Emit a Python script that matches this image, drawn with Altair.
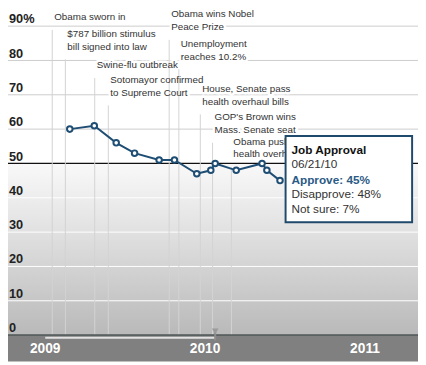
import altair as alt
import pandas as pd

# ---------------- data ----------------
poll_dates = ["2009-02-26", "2009-04-23", "2009-06-12", "2009-07-24", "2009-09-18",
              "2009-10-23", "2009-12-13", "2010-01-14", "2010-01-24", "2010-03-13",
              "2010-05-11", "2010-05-22", "2010-06-21"]
approve = [60, 61, 56, 53, 51, 51, 47, 48, 50, 48, 50, 48, 45]

event_dates = ["2009-01-17", "2009-02-16", "2009-04-24", "2009-05-25", "2009-10-11",
               "2009-11-02", "2009-12-21", "2010-01-18", "2010-03-02"]
event_labels = ["Obama sworn in",
                "$787 billion stimulus\nbill signed into law",
                "Swine-flu outbreak",
                "Sotomayor confirmed\nto Supreme Court",
                "Obama wins Nobel\nPeace Prize",
                "Unemployment\nreaches 10.2%",
                "House, Senate pass\nhealth overhaul bills",
                "GOP's Brown wins\nMass. Senate seat",
                "Obama pushes\nhealth overhaul"]
event_levels = [88.9, 80.3, 74.9, 66.9, 86.0, 77.4, 64.3, 56.0, 48.9]

grid_values = [0, 10, 20, 30, 40, 50, 60, 70, 80, 90]
grid_labels = ["0", "10", "20", "30", "40", "50", "60", "70", "80", "90%"]

year_ticks = ["2009-01-01", "2010-01-01", "2011-01-01"]
year_labels = ["2009", "2010", "2011"]

slider_start = "2009-01-01"
slider_handle = "2010-01-24"

tip_title = "Job Approval"
tip_date = "06/21/10"
tip_approve = 45
tip_disapprove = 48
tip_not_sure = 7

# ---------------- frames ----------------
polls = pd.DataFrame({"date": poll_dates, "approve": approve})

ann_rows = []
for d, lab, lev in zip(event_dates, event_labels, event_levels):
    parts = lab.split("\n")
    for i, p in enumerate(parts):
        ann_rows.append({"date": d, "text": p, "level": lev,
                         "pos": "last" if i == len(parts) - 1 else "first"})
ann = pd.DataFrame(ann_rows)
events = pd.DataFrame({"date": event_dates, "level": event_levels})
grid = pd.DataFrame({"v": grid_values, "label": grid_labels})
years = pd.DataFrame({"date": year_ticks, "label": year_labels})
one = pd.DataFrame({"a": [0]})

FONT = "Liberation Sans"
BLUE = "#1f4e74"

xs = alt.Scale(type="utc", domain=["2008-10-08", "2011-05-02"], nice=False)
ys = alt.Scale(domain=[-7.714, 94.286], nice=False, zero=False)

W, H = 418, 357

# background gradient below 50
grad = alt.Chart(one).mark_rect(
    color=alt.Gradient(gradient="linear",
                       stops=[alt.GradientStop(color="#f9f9f9", offset=0),
                              alt.GradientStop(color="#e4e4e4", offset=0.35),
                              alt.GradientStop(color="#b9b9b9", offset=1)],
                       x1=0, x2=0, y1=0, y2=1)
).encode(x=alt.value(0), x2=alt.value(W),
         y=alt.datum(50, scale=ys, axis=None), y2=alt.datum(0))

gridlines = alt.Chart(grid).transform_filter(
    "datum.v != 0 && datum.v != 50"
).mark_rule(strokeWidth=1).encode(
    y=alt.Y("v:Q", scale=ys, axis=None),
    color=alt.condition("datum.v > 50", alt.value("#cccccc"), alt.value("#ffffff")),
)

line50 = alt.Chart(grid).transform_filter("datum.v == 50").mark_rule(
    strokeWidth=1.2, color="#111111"
).encode(y=alt.Y("v:Q", scale=ys, axis=None))


def ann_text(pos, dy, halo):
    kw = dict(align="left", baseline="middle", dx=2, dy=dy, font=FONT, fontSize=10)
    if halo:
        kw.update(color="white", stroke="white", strokeWidth=5, strokeJoin="round")
    else:
        kw.update(color="#333333")
    return alt.Chart(ann).transform_filter(f"datum.pos == '{pos}'").mark_text(**kw).encode(
        x=alt.X("date:T", scale=xs, axis=None),
        y=alt.Y("level:Q", scale=ys, axis=None),
        text="text:N",
    )


halos = [ann_text("first", -26, True), ann_text("last", -13, True)]
texts = [ann_text("first", -26, False), ann_text("last", -13, False)]

leaders = alt.Chart(events).mark_rule(color="#d3d3d3", strokeWidth=1).encode(
    x=alt.X("date:T", scale=xs, axis=None),
    y=alt.Y("level:Q", scale=ys, axis=None),
    y2=alt.datum(0),
)

ylabels = alt.Chart(grid).mark_text(
    align="left", baseline="alphabetic", dy=-3, font=FONT, fontSize=13,
    fontWeight="bold", color="#222222"
).encode(x=alt.value(1), y=alt.Y("v:Q", scale=ys, axis=None), text="label:N")

pline = alt.Chart(polls).mark_line(color=BLUE, strokeWidth=2).encode(
    x=alt.X("date:T", scale=xs, axis=None),
    y=alt.Y("approve:Q", scale=ys, axis=None),
)
ppts = alt.Chart(polls).mark_point(
    filled=True, fill="white", stroke=BLUE, strokeWidth=2, size=32, opacity=1
).encode(
    x=alt.X("date:T", scale=xs, axis=None),
    y=alt.Y("approve:Q", scale=ys, axis=None),
)

band = alt.Chart(one).mark_rect(color="#808080").encode(
    x=alt.value(0), x2=alt.value(W),
    y=alt.datum(0, scale=ys, axis=None), y2=alt.value(H),
)
band_top = alt.Chart(one).mark_rule(color="#4f5757", strokeWidth=1.5).encode(
    x=alt.value(0), x2=alt.value(W), y=alt.datum(0, scale=ys, axis=None)
)
slider = alt.Chart(pd.DataFrame({"s": [slider_start], "e": [slider_handle]})).mark_rule(
    color="#e2e2e2", strokeWidth=2
).encode(
    x=alt.X("s:T", scale=xs, axis=None), x2="e:T",
    y=alt.datum(-0.75, scale=ys, axis=None),
)
handle_df = pd.DataFrame({"date": [slider_handle]})
handle_stem = alt.Chart(handle_df).mark_rule(color="#8c8c8c", strokeWidth=2).encode(
    x=alt.X("date:T", scale=xs, axis=None),
    y=alt.datum(1.2, scale=ys, axis=None), y2=alt.datum(-1.6),
)
handle = alt.Chart(handle_df).mark_point(
    shape="triangle-down", filled=True, color="#9a9a9a", size=45, opacity=1
).encode(x=alt.X("date:T", scale=xs, axis=None), y=alt.datum(1.1, scale=ys, axis=None))

ylab_years = alt.Chart(years).mark_text(
    align="center", baseline="alphabetic", font=FONT, fontSize=14,
    fontWeight="bold", color="white"
).encode(x=alt.X("date:T", scale=xs, axis=None), y=alt.value(348.5), text="label:N")

# tooltip box
tip_box = alt.Chart(one).mark_rect(fill="white", stroke="#1f4a6b", strokeWidth=2).encode(
    x=alt.value(283), x2=alt.value(412), y=alt.value(127), y2=alt.value(215)
)


def tip_line(txt, y, bold=False, color="#333333"):
    return alt.Chart(one).mark_text(
        align="left", baseline="alphabetic", font=FONT, fontSize=12,
        fontWeight="bold" if bold else "normal", color=color, text=txt
    ).encode(x=alt.value(289), y=alt.value(y))


tips = [
    tip_line(tip_title, 145.5, True, "#111111"),
    tip_line(tip_date, 159.5),
    tip_line(f"Approve: {tip_approve}%", 176, True, "#2b5b86"),
    tip_line(f"Disapprove: {tip_disapprove}%", 190.5),
    tip_line(f"Not sure: {tip_not_sure}%", 205.5),
]

chart = alt.layer(
    grad, gridlines, line50, *halos, leaders, *texts, ylabels, pline, ppts,
    band, band_top, slider, handle_stem, handle, ylab_years, tip_box, *tips
).properties(
    width=W, height=H, padding=0,
    autosize=alt.AutoSizeParams(type="none"),
    background="white",
).configure_view(stroke=None)

chart.save("out.html", embed_options={"renderer": "svg", "actions": False})
